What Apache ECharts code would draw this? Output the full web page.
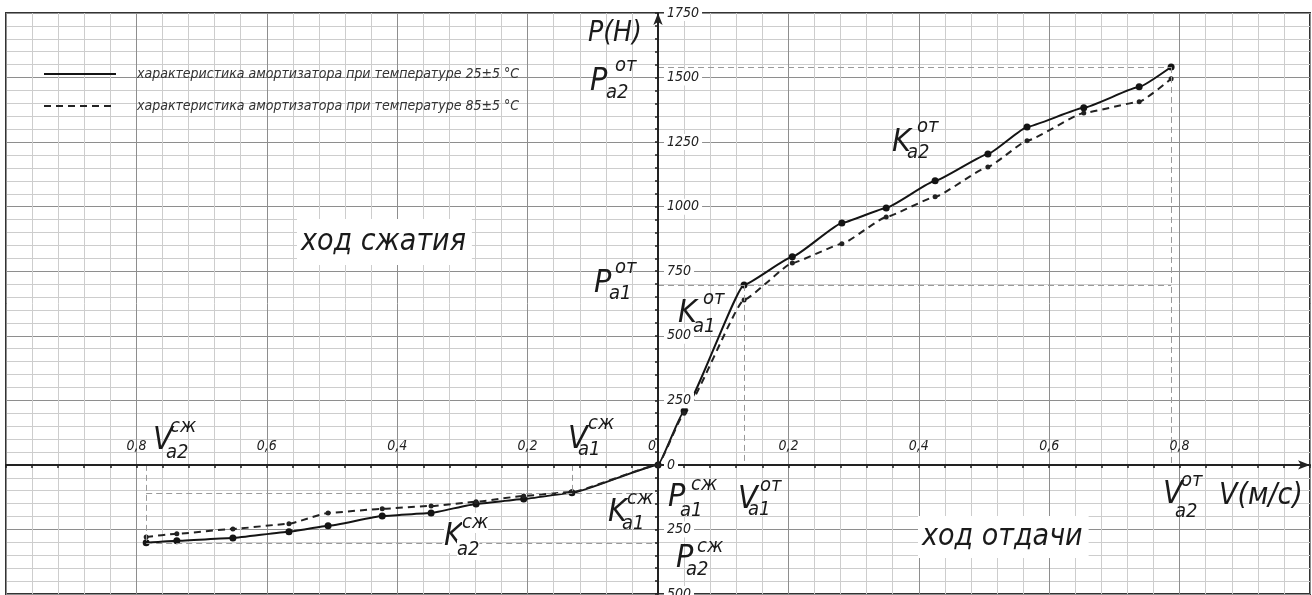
<!DOCTYPE html>
<html>
<head>
<meta charset="utf-8">
<script src="https://cdn.jsdelivr.net/npm/echarts@6/dist/echarts.min.js"></script>
<style>html,body{margin:0;padding:0;background:#fff}#c{width:1312px;height:595px}</style>
</head>
<body>
<div id="c"></div>
<script>
// ---- data (V in m/s, P in N) ----
const LEGEND_25 = 'характеристика амортизатора при температуре 25±5 °С';
const LEGEND_85 = 'характеристика амортизатора при температуре 85±5 °С';
// rebound stroke (ход отдачи)
const V_OT = [0.04, 0.132, 0.206, 0.282, 0.35, 0.425, 0.506, 0.566, 0.653, 0.738, 0.787];
const P_OT_25 = [209, 697, 806, 937, 995, 1100, 1204, 1309, 1383, 1464, 1541];
const P_OT_85 = [200, 639, 782, 856, 960, 1038, 1154, 1255, 1363, 1406, 1495];
// compression stroke (ход сжатия)
const V_SZH = [-0.132, -0.206, -0.279, -0.348, -0.423, -0.506, -0.566, -0.652, -0.738, -0.785];
const P_SZH_25 = [-108, -132, -151, -186, -198, -236, -259, -283, -294, -302];
const P_SZH_85 = [-105, -120, -143, -159, -170, -186, -228, -248, -267, -279];
const X_MIN = -1, X_MAX = 1, X_STEP = 0.2;
const Y_MIN = -500, Y_MAX = 1750, Y_STEP = 250;

const FONT = "'Liberation Sans Narrow','DejaVu Sans Condensed','Liberation Sans',sans-serif";
const GRID = {left: 6, right: 2, top: 13, bottom: 1};

function build(vn, pn, vp, pp) {
  const neg = vn.map((v, i) => [v, pn[i]]).reverse();
  const pos = vp.map((v, i) => [v, pp[i]]);
  return neg.concat([[0, 0]], pos);
}
const data25 = build(V_SZH, P_SZH_25, V_OT, P_OT_25);
const data85 = build(V_SZH, P_SZH_85, V_OT, P_OT_85);

const lo = V_OT.length - 1, ls = V_SZH.length - 1;
const refLines = [
  [{coord: [0, P_OT_25[lo]]}, {coord: [V_OT[lo], P_OT_25[lo]]}],
  [{coord: [V_OT[lo], P_OT_25[lo]]}, {coord: [V_OT[lo], 0]}],
  [{coord: [0, P_OT_25[1]]}, {coord: [V_OT[lo], P_OT_25[1]]}],
  [{coord: [V_OT[1], P_OT_25[1]]}, {coord: [V_OT[1], 0]}],
  [{coord: [V_SZH[ls], P_SZH_25[0]]}, {coord: [0, P_SZH_25[0]]}],
  [{coord: [V_SZH[0], 0]}, {coord: [V_SZH[0], P_SZH_25[0]]}],
  [{coord: [V_SZH[ls], P_SZH_25[ls]]}, {coord: [0, P_SZH_25[ls]]}],
  [{coord: [V_SZH[ls], 0]}, {coord: [V_SZH[ls], P_SZH_25[ls]]}]
];

// ---- annotations ----
function txt(s, x, y, size, extra) {
  return {
    type: 'text', z: 50,
    style: Object.assign({
      text: s, x: x, y: y,
      font: 'italic ' + size + 'px ' + FONT,
      fill: '#1a1a1a',
      textAlign: 'left', align: 'left',
      textVerticalAlign: 'middle', verticalAlign: 'middle'
    }, extra || {})
  };
}
function sym(main, sup, sub, m, p, b, bg) {
  const ex = bg ? {backgroundColor: '#fff'} : null;
  return [txt(main, m[0], m[1], 32, ex), txt(sup, p[0], p[1], 20, ex), txt(sub, b[0], b[1], 20, ex)];
}
const graphics = [].concat(
  [txt('P(H)', 588, 34, 28)],
  sym('P', 'от', 'a2', [590, 82], [615, 66], [606, 93]),
  sym('P', 'от', 'a1', [594, 284], [615, 268], [609, 294]),
  sym('K', 'от', 'a1', [678, 314], [703, 299], [693, 327]),
  sym('K', 'от', 'a2', [892, 143], [917, 127], [907, 153]),
  sym('V', 'сж', 'a2', [153, 441], [170, 427], [166, 453]),
  sym('V', 'сж', 'a1', [568, 440], [588, 424], [578, 450]),
  sym('K', 'сж', 'a1', [608, 513], [627, 499], [622, 524]),
  sym('P', 'сж', 'a1', [668, 498], [691, 485], [680, 511]),
  sym('P', 'сж', 'a2', [676, 559], [697, 547], [686, 570]),
  sym('K', 'сж', 'a2', [444, 537], [462, 523], [457, 550], true),
  sym('V', 'от', 'a1', [738, 500], [760, 486], [748, 510]),
  sym('V', 'от', 'a2', [1163, 495], [1181, 481], [1175, 512]),
  [txt('V(м/с)', 1219, 496, 30)],
  [txt('ход сжатия', 297, 242, 30, {backgroundColor: '#fff', padding: [8, 6, 8, 4]})],
  [txt('ход отдачи', 918, 537, 30, {backgroundColor: '#fff', padding: [6, 6, 6, 4]})]
);

const AX = '#222';
const labelFont = {fontFamily: FONT, fontStyle: 'italic', fontSize: 14, color: '#222'};

const chart = echarts.init(document.getElementById('c'), null, {renderer: 'canvas'});
const option = {
  animation: false,
  backgroundColor: '#fff',
  grid: Object.assign({show: true, borderColor: '#333', borderWidth: 2, backgroundColor: '#fff',
    containLabel: false, outerBoundsMode: 'none'}, GRID),
  legend: {
    orient: 'vertical', left: 38, top: 62, itemWidth: 72, itemHeight: 14, itemGap: 18,
    data: [LEGEND_25, LEGEND_85],
    itemStyle: {opacity: 0},
    textStyle: {fontFamily: FONT, fontStyle: 'italic', fontSize: 14, color: '#333', padding: [0, 0, 0, 16]}
  },
  xAxis: [
    {
      type: 'value', min: X_MIN, max: X_MAX, interval: X_STEP, z: 0,
      axisLine: {show: false}, axisTick: {show: false}, axisLabel: {show: false},
      splitLine: {show: true, lineStyle: {color: '#8e8e8e', width: 1}},
      minorTick: {show: false, splitNumber: 5},
      minorSplitLine: {show: true, lineStyle: {color: '#cdcdcd', width: 1}}
    },
    {
      type: 'value', min: X_MIN, max: X_MAX, interval: X_STEP, position: 'bottom', z: 5, offset: 0,
      axisLine: {show: true, onZero: false, symbol: ['none', 'arrow'], symbolSize: [7, 12], lineStyle: {color: AX, width: 2}},
      axisTick: {show: true, length: 3, lineStyle: {color: AX, width: 1.5}},
      minorTick: {show: true, splitNumber: 5, length: 3, lineStyle: {color: AX, width: 1.5}},
      splitLine: {show: false},
      axisLabel: Object.assign({
        inside: true, margin: 12, showMinLabel: false, showMaxLabel: false,
        formatter: function (v) {
          if (Math.abs(v) > 0.99) return '';
          if (Math.abs(v) < 1e-9) return '{o|0}';
          return Math.abs(v).toFixed(1).replace('.', ',');
        },
        rich: {o: {fontFamily: FONT, fontStyle: 'italic', fontSize: 14, color: '#222', padding: [0, 12, 0, 0]}}
      }, labelFont)
    }
  ],
  yAxis: [
    {
      type: 'value', min: Y_MIN, max: Y_MAX, interval: Y_STEP, z: 0,
      axisLine: {show: false}, axisTick: {show: false}, axisLabel: {show: false},
      splitLine: {show: true, lineStyle: {color: '#8e8e8e', width: 1}},
      minorTick: {show: false, splitNumber: 5},
      minorSplitLine: {show: true, lineStyle: {color: '#cdcdcd', width: 1}}
    },
    {
      type: 'value', min: Y_MIN, max: Y_MAX, interval: Y_STEP, position: 'left', z: 5, offset: 0,
      axisLine: {show: true, onZero: false, symbol: ['none', 'arrow'], symbolSize: [7, 12], lineStyle: {color: AX, width: 2}},
      axisTick: {show: true, length: 3, lineStyle: {color: AX, width: 1.5}},
      minorTick: {show: true, splitNumber: 5, length: 3, lineStyle: {color: AX, width: 1.5}},
      splitLine: {show: false},
      axisLabel: Object.assign({
        inside: true, margin: 6, showMinLabel: true, showMaxLabel: true,
        backgroundColor: '#fff', padding: [1, 3],
        formatter: function (v) { return String(Math.abs(v)); }
      }, labelFont)
    }
  ],
  series: [
    {
      name: LEGEND_25, type: 'line', xAxisIndex: 0, yAxisIndex: 0,
      data: data25, smooth: 0.12, smoothMonotone: 'x',
      symbol: 'circle', symbolSize: 7, z: 3,
      lineStyle: {color: '#141414', width: 2},
      itemStyle: {color: '#141414'},
      markLine: {
        silent: true, symbol: ['none', 'none'], label: {show: false},
        lineStyle: {color: '#9a9a9a', width: 1, type: [6, 4]},
        data: refLines
      }
    },
    {
      name: LEGEND_85, type: 'line', xAxisIndex: 0, yAxisIndex: 0,
      data: data85, smooth: 0.12, smoothMonotone: 'x',
      symbol: 'circle', symbolSize: 5, z: 3,
      lineStyle: {color: '#222', width: 2, type: [7, 5]},
      itemStyle: {color: '#222'}
    }
  ],
  graphic: graphics
};
chart.setOption(option);

// move the drawn axes (line, ticks, labels) so they cross at the origin
const ox = chart.convertToPixel({xAxisIndex: 0}, 0);
const oy = chart.convertToPixel({yAxisIndex: 0}, 0);
const leftPx = chart.convertToPixel({xAxisIndex: 0}, X_MIN);
const bottomPx = chart.convertToPixel({yAxisIndex: 0}, Y_MIN);
chart.setOption({
  xAxis: [{}, {offset: -(bottomPx - oy)}],
  yAxis: [{}, {offset: -(ox - leftPx)}]
});
</script>
</body>
</html>
